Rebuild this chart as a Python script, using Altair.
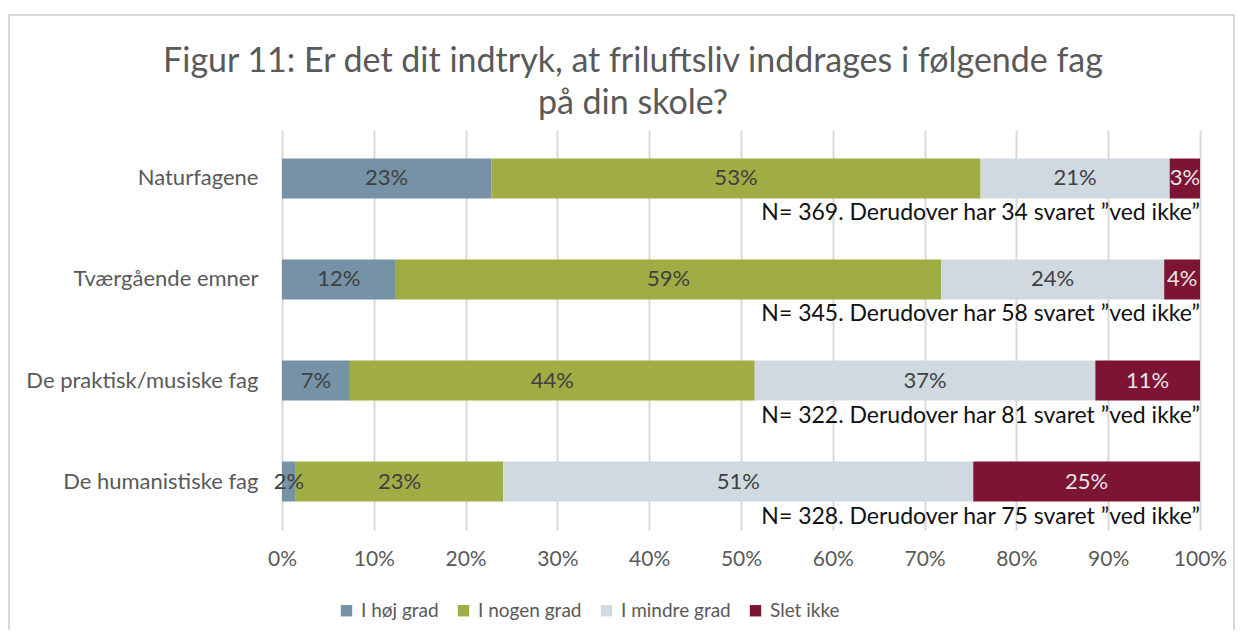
import altair as alt
import pandas as pd

# ---- data ----
categories = ["Naturfagene", "Tværgående emner", "De praktisk/musiske fag", "De humanistiske fag"]
series = ["I høj grad", "I nogen grad", "I mindre grad", "Slet ikke"]
hoej_grad = [22.8, 12.4, 7.4, 1.5]
nogen_grad = [53.3, 59.4, 44.1, 22.6]
mindre_grad = [20.6, 24.3, 37.1, 51.2]
slet_ikke = [3.3, 3.9, 11.4, 24.7]
n_answers = [369, 345, 322, 328]
n_dont_know = [34, 58, 81, 75]
colors = ["#7592A6", "#9FAD44", "#D1D9E0", "#7D1433"]

FONT = "Lato"

rows = []
for si, (name, vals) in enumerate(zip(series, [hoej_grad, nogen_grad, mindre_grad, slet_ikke])):
    for c, v in zip(categories, vals):
        rows.append({"cat": c, "series": name, "order": si, "value": v})
df = pd.DataFrame(rows)

notes = pd.DataFrame({
    "cat": categories,
    "note": [f"N= {n}. Derudover har {d} svaret \u201dved ikke\u201d" for n, d in zip(n_answers, n_dont_know)],
})

y_enc = alt.Y("cat:N", sort=categories, title=None,
              scale=alt.Scale(paddingInner=0.6, paddingOuter=0.28),
              axis=alt.Axis(labelFont=FONT, labelFontSize=22, labelColor="#595959",
                            ticks=False, domain=False, labelPadding=24, grid=False,
                            labelLimit=400))

base = alt.Chart(df)

bars = base.mark_bar(size=40).encode(
    x=alt.X("value:Q", stack="zero", title=None,
            scale=alt.Scale(domain=[0, 100], nice=False),
            axis=alt.Axis(values=list(range(0, 101, 10)), labelExpr="datum.value + '%'",
                          labelFont=FONT, labelFontSize=21, labelColor="#595959",
                          labelPadding=18, ticks=False, domain=False, labelFlush=False,
                          gridColor="#D9D9D9", gridWidth=2)),
    y=y_enc,
    color=alt.Color("series:N", sort=series,
                    scale=alt.Scale(domain=series, range=colors),
                    legend=alt.Legend(title=None, orient="none", legendX=55, legendY=471,
                                      direction="horizontal", symbolType="square",
                                      symbolSize=130, symbolStrokeWidth=0,
                                      labelFont=FONT, labelFontSize=19, labelColor="#595959",
                                      columnPadding=15, labelOffset=5)),
    order=alt.Order("order:Q"),
)

labels = base.transform_window(
    cum="sum(value)", sort=[alt.SortField("order")], groupby=["cat"],
    frame=[None, 0]
).transform_calculate(
    mid="datum.cum - datum.value / 2",
    lbl="format(datum.value, '.0f') + '%'",
).mark_text(font=FONT, fontSize=22, baseline="middle", align="center").encode(
    x=alt.X("mid:Q"),
    y=alt.Y("cat:N", sort=categories),
    text="lbl:N",
    color=alt.condition(alt.datum.series == "Slet ikke", alt.value("#E6E6E6"), alt.value("#404040")),
)

note_layer = alt.Chart(notes).mark_text(
    font=FONT, fontSize=23, align="right", baseline="middle", dy=35, color="#111111"
).encode(
    x=alt.datum(100),
    y=alt.Y("cat:N", sort=categories),
    text="note:N",
)

# light-grey chart frame (left, top, right edges)
frame_left = alt.Chart(notes).mark_rule(stroke="#D9D9D9", strokeWidth=2).encode(
    x=alt.value(-273), y=alt.value(-115), y2=alt.value(500))
frame_top = alt.Chart(notes).mark_rule(stroke="#D9D9D9", strokeWidth=2).encode(
    x=alt.value(-274), x2=alt.value(953), y=alt.value(-115))
frame_right = alt.Chart(notes).mark_rule(stroke="#D9D9D9", strokeWidth=2).encode(
    x=alt.value(952), y=alt.value(-115), y2=alt.value(500))

chart = alt.layer(frame_left, frame_top, frame_right, bars, labels, note_layer).properties(
    width=918, height=400,
    title=alt.Title(
        ["Figur 11: Er det dit indtryk, at friluftsliv inddrages i følgende fag", "på din skole?"],
        font=FONT, fontSize=34, fontWeight="normal", color="#595959",
        lineHeight=42, dx=-108, offset=-107, anchor="middle",
    ),
    autosize=alt.AutoSizeParams(type="none"),
    padding={"left": 274, "top": 122, "right": 35, "bottom": 100},
).configure_view(stroke=None)

chart.save("out.html", embed_options={"renderer": "svg", "actions": False})
